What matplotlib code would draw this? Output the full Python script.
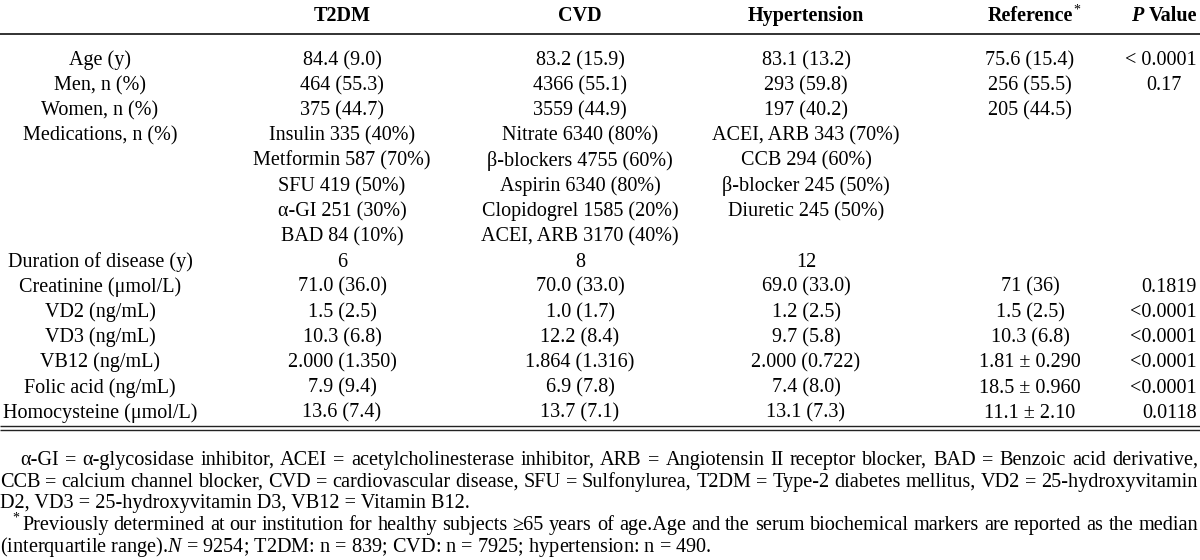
import matplotlib
matplotlib.use("Agg")
import matplotlib.pyplot as plt

plt.rcParams['font.family'] = ['Liberation Serif', 'DejaVu Serif']
plt.rcParams['mathtext.fontset'] = 'custom'
plt.rcParams['mathtext.rm'] = 'Liberation Serif'
plt.rcParams['mathtext.it'] = 'Liberation Serif:italic'
plt.rcParams['mathtext.bf'] = 'Liberation Serif:bold'

# === Table data ===
headers = ["T2DM", "CVD", "Hypertension", "Reference", "Value"]

row_labels = ["Age (y)", "Men, n (%)", "Women, n (%)", "Medications, n (%)",
              "", "", "", "", "Duration of disease (y)", "Creatinine (μmol/L)",
              "VD2 (ng/mL)", "VD3 (ng/mL)", "VB12 (ng/mL)", "Folic acid (ng/mL)",
              "Homocysteine (μmol/L)"]

t2dm = ["84.4 (9.0)", "464 (55.3)", "375 (44.7)", "Insulin 335 (40%)",
        "Metformin 587 (70%)", "SFU 419 (50%)", "α-GI 251 (30%)", "BAD 84 (10%)",
        "6", "71.0 (36.0)", "1.5 (2.5)", "10.3 (6.8)", "2.000 (1.350)",
        "7.9 (9.4)", "13.6 (7.4)"]

cvd = ["83.2 (15.9)", "4366 (55.1)", "3559 (44.9)", "Nitrate 6340 (80%)",
       "β-blockers 4755 (60%)", "Aspirin 6340 (80%)", "Clopidogrel 1585 (20%)",
       "ACEI, ARB 3170 (40%)", "8", "70.0 (33.0)", "1.0 (1.7)", "12.2 (8.4)",
       "1.864 (1.316)", "6.9 (7.8)", "13.7 (7.1)"]

hypertension = ["83.1 (13.2)", "293 (59.8)", "197 (40.2)", "ACEI, ARB 343 (70%)",
                "CCB 294 (60%)", "β-blocker 245 (50%)", "Diuretic 245 (50%)", "",
                "12", "69.0 (33.0)", "1.2 (2.5)", "9.7 (5.8)", "2.000 (0.722)",
                "7.4 (8.0)", "13.1 (7.3)"]

reference = ["75.6 (15.4)", "256 (55.5)", "205 (44.5)", "", "", "", "", "", "",
             "71 (36)", "1.5 (2.5)", "10.3 (6.8)", "1.81 ± 0.290", "18.5 ± 0.960",
             "11.1 ± 2.10"]

p_values = ["< 0.0001", "0.17", "", "", "", "", "", "", "", "0.1819",
            "<0.0001", "<0.0001", "<0.0001", "<0.0001", "0.0118"]

footnotes = [
    "α-GI = α-glycosidase inhibitor, ACEI = acetylcholinesterase inhibitor, ARB = Angiotensin II receptor blocker, BAD = Benzoic acid derivative,",
    "CCB = calcium channel blocker, CVD = cardiovascular disease, SFU = Sulfonylurea, T2DM = Type-2 diabetes mellitus, VD2 = 25-hydroxyvitamin",
    "D2, VD3 = 25-hydroxyvitamin D3, VB12 = Vitamin B12.",
    "Previously determined at our institution for healthy subjects ≥65 years of age.Age and the serum biochemical markers are reported as the median",
    r"(interquartile range).$\mathit{N}$ = 9254; T2DM: n = 839; CVD: n = 7925; hypertension: n = 490.",
]
justified = [True, True, False, True, False]

# === Layout (pixel coordinates, text placed on baselines) ===
fig = plt.figure(figsize=(12, 5.6), dpi=100)
ax = fig.add_axes([0, 0, 1, 1])
ax.set_xlim(0, 1200)
ax.set_ylim(560, 0)
ax.axis('off')
r = fig.canvas.get_renderer()


def width_of(t):
    bb = ax.transData.inverted().transform(t.get_window_extent(r))
    return bb[1][0] - bb[0][0]


fs = 14.5
col_x = [100, 342, 580, 806, 1030]
header_base = 21
row_base0, row_step = 65, 25.2

# header
for x, h in zip(col_x[1:], headers[:4]):
    ref_txt = ax.text(x, header_base, h, ha='center', va='baseline', fontsize=fs, fontweight='bold')
val = ax.text(1197, header_base, headers[4], ha='right', va='baseline', fontsize=fs, fontweight='bold')
ax.text(1197 - width_of(val) - 5, header_base, "P", ha='right', va='baseline', fontsize=fs,
        fontweight='bold', fontstyle='italic')
ax.text(col_x[4] + width_of(ref_txt) / 2 + 1, header_base - 7, "*", ha='left', va='baseline', fontsize=10)

ax.plot([0, 1200], [34, 34], color='#222222', lw=1.3, solid_capstyle='butt')

# body rows
for i in range(len(row_labels)):
    y = row_base0 + i * row_step
    cells = [row_labels[i], t2dm[i], cvd[i], hypertension[i], reference[i]]
    for x, c in zip(col_x, cells):
        if c:
            ax.text(x, y, c, ha='center', va='baseline', fontsize=fs)
    if p_values[i]:
        if i == 1:
            ax.text(1164, y, p_values[i], ha='center', va='baseline', fontsize=fs)
        else:
            ax.text(1197, y, p_values[i], ha='right', va='baseline', fontsize=fs)

ax.plot([0, 1200], [425.5, 425.5], color='#222222', lw=1.0, solid_capstyle='butt')
ax.plot([0, 1200], [429.5, 429.5], color='#222222', lw=1.0, solid_capstyle='butt')

# footnotes (justified lines are set word by word)
fn_fs = 14.6
fn_base = [465, 487, 508, 530, 552]
fn_x = [20, 0, 0, 22, 0]
right_edge = 1198
for x0, y, t, just in zip(fn_x, fn_base, footnotes, justified):
    if not just:
        ax.text(x0, y, t, ha='left', va='baseline', fontsize=fn_fs)
        continue
    words = t.split(" ")
    objs = [ax.text(0, y, w, ha='left', va='baseline', fontsize=fn_fs) for w in words]
    widths = [width_of(o) for o in objs]
    gap = (right_edge - x0 - sum(widths)) / (len(words) - 1)
    x = x0
    for o, w in zip(objs, widths):
        o.set_x(x)
        x += w + gap
ax.text(12, fn_base[3] - 8, "*", ha='left', va='baseline', fontsize=10)

fig.savefig("out.png", dpi=100, facecolor='white')
